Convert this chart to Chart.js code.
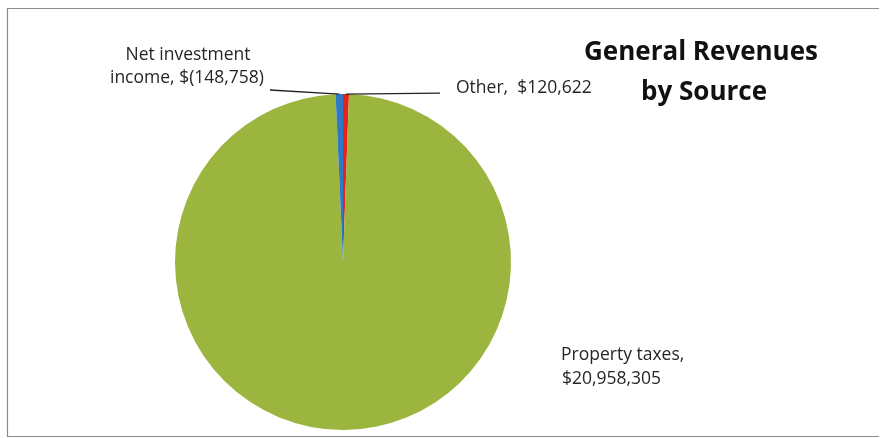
<!DOCTYPE html>
<html>
<head>
<meta charset="utf-8">
<script src="https://cdn.jsdelivr.net/npm/chart.js@4/dist/chart.umd.min.js"></script>
<style>
  html, body { margin: 0; padding: 0; background: #ffffff; }
  #wrap { width: 880px; height: 438px; position: relative; }
</style>
</head>
<body>
<div id="wrap"><canvas id="chartPie" width="880" height="438"></canvas></div>
<script>
// fontes de receita (ordem a partir do topo, sentido horário)
const categorias = ['Other', 'Property taxes', 'Net investment income'];
const valores = [120622, 20958305, -148758];
const cores = ['#E3231C', '#9BB53F', '#2F78C4'];

function formatarValor(v) {
    let txt = '$' + Math.abs(v).toLocaleString('en-US');
    return v < 0 ? '$(' + Math.abs(v).toLocaleString('en-US') + ')' : txt;
}

const fonteRotulo = '17.5px "Open Sans", "DejaVu Sans", sans-serif';

// rótulos, linhas de chamada, título e moldura
const pluginRotulos = {
    id: 'rotulos',
    afterDraw(chart) {
        const ctx = chart.ctx;
        const arcos = chart.getDatasetMeta(0).data;
        ctx.save();

        // moldura
        ctx.strokeStyle = '#8c8c8c';
        ctx.lineWidth = 1.2;
        ctx.beginPath();
        ctx.moveTo(879, 8.5);
        ctx.lineTo(7.5, 8.5);
        ctx.lineTo(7.5, 436.5);
        ctx.lineTo(879, 436.5);
        ctx.stroke();

        // linhas de chamada a partir da borda das fatias pequenas
        ctx.strokeStyle = '#222222';
        ctx.lineWidth = 1.3;
        const pontoBorda = (arco) => {
            const a = (arco.startAngle + arco.endAngle) / 2;
            return { x: arco.x + Math.cos(a) * arco.outerRadius, y: arco.y + Math.sin(a) * arco.outerRadius };
        };
        const pOutro = pontoBorda(arcos[0]);
        ctx.beginPath();
        ctx.moveTo(pOutro.x, pOutro.y);
        ctx.lineTo(440, pOutro.y - 1);
        ctx.stroke();

        const pInv = pontoBorda(arcos[2]);
        ctx.beginPath();
        ctx.moveTo(pInv.x, pInv.y);
        ctx.lineTo(270, 90);
        ctx.stroke();

        ctx.fillStyle = '#262626';
        ctx.font = fonteRotulo;
        ctx.textBaseline = 'middle';

        ctx.textAlign = 'center';
        ctx.fillText('Net investment', 188, 55);
        ctx.fillText('income, ' + formatarValor(valores[2]), 187, 78);

        ctx.textAlign = 'left';
        ctx.fillText(categorias[0] + ',  ' + formatarValor(valores[0]), 456, 88);

        ctx.fillText(categorias[1] + ',', 561, 355);
        ctx.fillText(formatarValor(valores[1]), 562, 379);

        // título
        ctx.fillStyle = '#111111';
        ctx.font = 'bold 26px "Open Sans", "DejaVu Sans", sans-serif';
        ctx.textAlign = 'center';
        ctx.fillText('General Revenues', 701, 53);
        ctx.fillText('by Source', 704, 93);

        ctx.restore();
    }
};

const configPie = document.getElementById('chartPie');

var dadosPizza = {
    labels: categorias,
    datasets: [{
        data: valores.map(v => Math.abs(v)),
        backgroundColor: cores,
        borderWidth: 0
    }]
};

var graficoPizza = new Chart(configPie, {
    type: 'pie',
    data: dadosPizza,
    options: {
        responsive: false,
        animation: false,
        layout: {
            padding: { left: 175, right: 369, top: 94, bottom: 8 }
        },
        plugins: {
            legend: { display: false },
            tooltip: { enabled: false },
            title: { display: false }
        }
    },
    plugins: [pluginRotulos]
});
</script>
</body>
</html>
